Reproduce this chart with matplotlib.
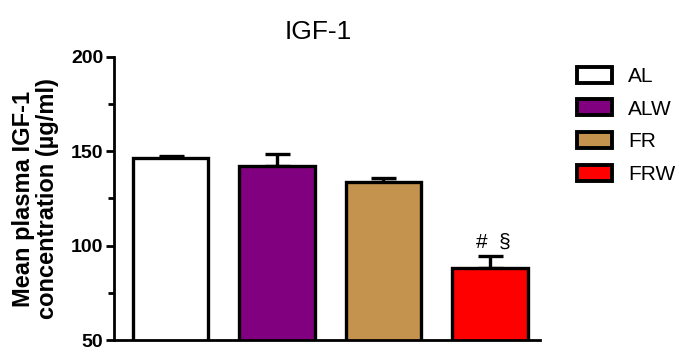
import matplotlib.pyplot as plt
from matplotlib.patches import Patch
import numpy as np

plt.rcParams['font.family'] = ['Liberation Sans', 'DejaVu Sans']

groups = ['AL', 'ALW', 'FR', 'FRW']
means = [146.5, 142.3, 133.8, 88.3]
sem = [1.0, 6.3, 2.2, 6.0]
colors = ['white', '#800080', '#c4944f', '#ff0000']

fig = plt.figure(figsize=(6.8, 3.47), dpi=100)
ax = fig.add_axes([0.168, 0.02, 0.626, 0.816])

x = np.arange(len(groups))
ax.bar(x, means, width=0.71, color=colors, edgecolor='black', linewidth=2.4, zorder=2)
ax.errorbar(x, means, yerr=[np.zeros(4), sem], fmt='none', ecolor='black',
            elinewidth=2.4, capsize=9, capthick=2.4, zorder=1)

ax.text(x[3] + 0.03, means[3] + sem[3] + 2.5, '#  §', ha='center', va='bottom', fontsize=15)

ax.set_xlim(-0.53, 3.47)
ax.set_ylim(50, 200)
ax.set_yticks([50, 100, 150, 200])
ax.set_yticks([75, 125, 175], minor=True)
ax.set_xticks([])
for s in ['top', 'right']:
    ax.spines[s].set_visible(False)
ax.spines['left'].set_linewidth(2)
ax.spines['bottom'].set_linewidth(2)
ax.tick_params(axis='y', which='major', width=2, length=6, labelsize=14, pad=2)
ax.tick_params(axis='y', which='minor', width=2, length=4)
for lab in ax.get_yticklabels():
    lab.set_fontweight('bold')

ax.set_ylabel('Mean plasma IGF-1\nconcentration (µg/ml)', fontsize=17, fontweight='bold',
              linespacing=1.05)
ax.yaxis.set_label_coords(-0.129, 0.5)
fig.text(318 / 680, 1 - 32 / 347, 'IGF-1', ha='center', va='center', fontsize=19)

handles = [Patch(facecolor=c, edgecolor='black', linewidth=2.8) for c in colors]
fig.legend(handles, groups, loc='upper left', bbox_to_anchor=(0.849, 0.808), frameon=False,
           fontsize=15, handlelength=1.68, handleheight=0.82, labelspacing=0.64,
           handletextpad=0.77, borderpad=0, borderaxespad=0)

fig.savefig('out.png', dpi=100)
